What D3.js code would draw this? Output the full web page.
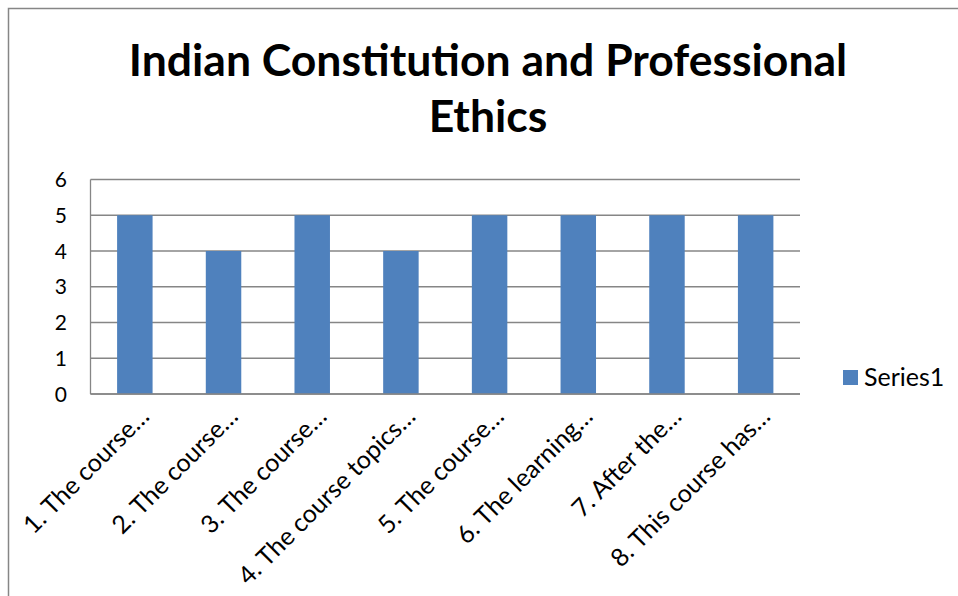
<!DOCTYPE html>
<html><head><meta charset="utf-8">
<script src="https://cdn.jsdelivr.net/npm/d3@7"></script>
<style>body{margin:0;background:#fff}svg{display:block}text{font-family:Lato,"Open Sans",sans-serif}</style>
</head><body>
<svg id="c" width="958" height="596"></svg>
<script>
const titleLines = ["Indian Constitution and Professional", "Ethics"];
const categories = ["1. The course…", "2. The course…", "3. The course…", "4. The course topics…", "5. The course…", "6. The learning…", "7. After the…", "8. This course has…"];
const series1 = [5, 4, 5, 4, 5, 5, 5, 5];
const yTicks = [0, 1, 2, 3, 4, 5, 6];
const seriesName = "Series1";

const svg = d3.select("#c");
svg.append("rect").attr("x", 8.5).attr("y", 8.5).attr("width", 1200).attr("height", 1200)
  .attr("fill", "#fff").attr("stroke", "#868686").attr("stroke-width", 1.5);

const L = 90.5, R = 800, T = 179.5, B = 394;
const x = d3.scaleBand().domain(categories).range([L, R]).paddingInner(0.6).paddingOuter(0.3);
const y = d3.scaleLinear().domain([0, 6]).range([B, T]);

// title
svg.append("g").selectAll("text").data(titleLines).join("text")
  .attr("x", 488).attr("y", (d, i) => 76 + i * 56)
  .attr("text-anchor", "middle").attr("font-weight", "bold").attr("font-size", 44.5)
  .attr("fill", "#000").text(d => d);

// gridlines
svg.append("g").selectAll("line").data(yTicks).join("line")
  .attr("x1", L).attr("x2", R).attr("y1", d => y(d)).attr("y2", d => y(d))
  .attr("stroke", "#868686").attr("stroke-width", 1.3);
svg.append("line").attr("x1", L).attr("x2", L).attr("y1", T).attr("y2", B)
  .attr("stroke", "#868686").attr("stroke-width", 1.3);

// bars
svg.append("g").selectAll("rect").data(series1).join("rect")
  .attr("x", (d, i) => x(categories[i])).attr("width", x.bandwidth())
  .attr("y", d => y(d)).attr("height", d => B - y(d))
  .attr("fill", "#4F81BD");

svg.append("line").attr("x1", L).attr("x2", R).attr("y1", B).attr("y2", B)
  .attr("stroke", "#868686").attr("stroke-width", 1.5);

// y labels
svg.append("g").selectAll("text").data(yTicks).join("text")
  .attr("x", 67).attr("y", d => y(d)).attr("dy", "0.36em")
  .attr("text-anchor", "end").attr("font-size", 21).attr("fill", "#000").text(d => d);

// x labels
svg.append("g").selectAll("text").data(categories).join("text")
  .attr("transform", d => `translate(${x(d) + x.bandwidth() / 2 + 16},418) rotate(-45)`)
  .attr("text-anchor", "end").attr("font-size", 25).attr("fill", "#000").text(d => d);

// legend
svg.append("rect").attr("x", 843).attr("y", 370).attr("width", 15).attr("height", 15).attr("fill", "#4F81BD");
svg.append("text").attr("x", 864).attr("y", 385.5).attr("font-size", 25).attr("fill", "#000").text(seriesName);
</script>
</body></html>
